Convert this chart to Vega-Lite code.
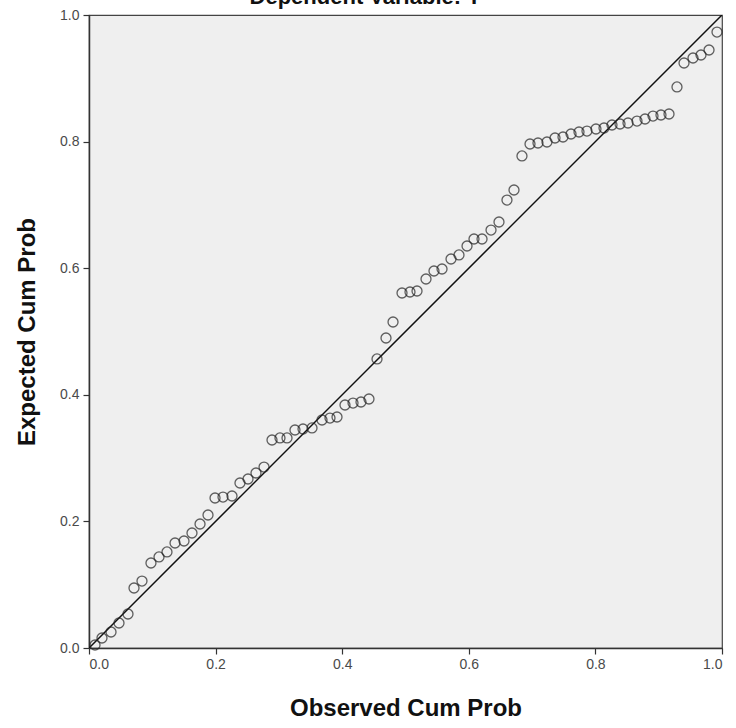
{
  "$schema": "https://vega.github.io/schema/vega-lite/v6.json",
  "width": 633,
  "height": 633,
  "autosize": {"type": "none"},
  "padding": {"left": 89, "top": 15, "right": 14, "bottom": 80},
  "background": "#ffffff",
  "title": {
    "text": "Dependent Variable: Y",
    "anchor": "middle",
    "frame": "group",
    "dx": -40,
    "dy": 24,
    "offset": 6,
    "baseline": "alphabetic",
    "font": "Liberation Sans",
    "fontSize": 22,
    "fontWeight": "bold",
    "color": "#111111"
  },
  "config": {
    "view": {"fill": "#efefef", "stroke": "#444444", "strokeWidth": 1.2},
    "axis": {
      "grid": false,
      "domainColor": "#333333",
      "domainWidth": 1.5,
      "tickColor": "#333333",
      "tickSize": 6,
      "tickWidth": 1.2,
      "labelFont": "Liberation Sans",
      "labelFontSize": 14,
      "labelColor": "#4a4a4a",
      "titleFont": "Liberation Sans",
      "titleFontSize": 24,
      "titleFontWeight": "bold",
      "titleColor": "#111111"
    }
  },
  "layer": [
    {
      "data": {"values": [{"x": 0, "y": 0}, {"x": 1, "y": 1}]},
      "mark": {"type": "line", "color": "#111111", "strokeWidth": 1.5, "clip": true},
      "encoding": {
        "x": {"field": "x", "type": "quantitative"},
        "y": {"field": "y", "type": "quantitative"}
      }
    },
    {
      "data": {
        "values": [
          {"obs": 0.0095, "exp": 0.0047}, {"obs": 0.0205, "exp": 0.0158}, {"obs": 0.0348, "exp": 0.0253},
          {"obs": 0.0474, "exp": 0.0395}, {"obs": 0.0616, "exp": 0.0537}, {"obs": 0.0711, "exp": 0.0948},
          {"obs": 0.0837, "exp": 0.1058}, {"obs": 0.0979, "exp": 0.1343}, {"obs": 0.1106, "exp": 0.1438},
          {"obs": 0.1232, "exp": 0.1517}, {"obs": 0.1359, "exp": 0.1659}, {"obs": 0.1501, "exp": 0.1690},
          {"obs": 0.1627, "exp": 0.1817}, {"obs": 0.1754, "exp": 0.1959}, {"obs": 0.1880, "exp": 0.2101},
          {"obs": 0.1991, "exp": 0.2370}, {"obs": 0.2117, "exp": 0.2385}, {"obs": 0.2259, "exp": 0.2401},
          {"obs": 0.2385, "exp": 0.2607}, {"obs": 0.2512, "exp": 0.2670}, {"obs": 0.2638, "exp": 0.2765},
          {"obs": 0.2765, "exp": 0.2859}, {"obs": 0.2891, "exp": 0.3286}, {"obs": 0.3017, "exp": 0.3318},
          {"obs": 0.3128, "exp": 0.3318}, {"obs": 0.3254, "exp": 0.3444}, {"obs": 0.3381, "exp": 0.3460},
          {"obs": 0.3523, "exp": 0.3476}, {"obs": 0.3681, "exp": 0.3602}, {"obs": 0.3807, "exp": 0.3633},
          {"obs": 0.3918, "exp": 0.3649}, {"obs": 0.4044, "exp": 0.3839}, {"obs": 0.4171, "exp": 0.3870},
          {"obs": 0.4297, "exp": 0.3886}, {"obs": 0.4423, "exp": 0.3934}, {"obs": 0.4550, "exp": 0.4566},
          {"obs": 0.4692, "exp": 0.4897}, {"obs": 0.4803, "exp": 0.5150}, {"obs": 0.4945, "exp": 0.5608},
          {"obs": 0.5071, "exp": 0.5624}, {"obs": 0.5182, "exp": 0.5640}, {"obs": 0.5324, "exp": 0.5829},
          {"obs": 0.5450, "exp": 0.5956}, {"obs": 0.5577, "exp": 0.5987}, {"obs": 0.5719, "exp": 0.6145},
          {"obs": 0.5845, "exp": 0.6209}, {"obs": 0.5972, "exp": 0.6351}, {"obs": 0.6082, "exp": 0.6461},
          {"obs": 0.6209, "exp": 0.6461}, {"obs": 0.6351, "exp": 0.6603}, {"obs": 0.6477, "exp": 0.6730},
          {"obs": 0.6603, "exp": 0.7077}, {"obs": 0.6714, "exp": 0.7235}, {"obs": 0.6840, "exp": 0.7773},
          {"obs": 0.6967, "exp": 0.7962}, {"obs": 0.7093, "exp": 0.7978}, {"obs": 0.7235, "exp": 0.7994},
          {"obs": 0.7362, "exp": 0.8057}, {"obs": 0.7488, "exp": 0.8073}, {"obs": 0.7615, "exp": 0.8120},
          {"obs": 0.7741, "exp": 0.8152}, {"obs": 0.7867, "exp": 0.8167}, {"obs": 0.8009, "exp": 0.8199},
          {"obs": 0.8136, "exp": 0.8215}, {"obs": 0.8262, "exp": 0.8262}, {"obs": 0.8389, "exp": 0.8278},
          {"obs": 0.8515, "exp": 0.8294}, {"obs": 0.8657, "exp": 0.8325}, {"obs": 0.8784, "exp": 0.8357},
          {"obs": 0.8910, "exp": 0.8404}, {"obs": 0.9036, "exp": 0.8420}, {"obs": 0.9163, "exp": 0.8436},
          {"obs": 0.9289, "exp": 0.8863}, {"obs": 0.9400, "exp": 0.9242}, {"obs": 0.9542, "exp": 0.9321},
          {"obs": 0.9668, "exp": 0.9368}, {"obs": 0.9795, "exp": 0.9447}, {"obs": 0.9921, "exp": 0.9731}
        ]
      },
      "mark": {"type": "point", "shape": "circle", "filled": false, "stroke": "#222222", "strokeWidth": 1.3, "size": 100, "clip": false},
      "encoding": {
        "x": {
          "field": "obs", "type": "quantitative",
          "scale": {"domain": [0, 1], "nice": false, "zero": false},
          "axis": {"title": "Observed Cum Prob", "values": [0, 0.2, 0.4, 0.6, 0.8, 1.0], "format": ".1f", "labelPadding": 3, "titlePadding": 25}
        },
        "y": {
          "field": "exp", "type": "quantitative",
          "scale": {"domain": [0, 1], "nice": false, "zero": false},
          "axis": {"title": "Expected Cum Prob", "values": [0, 0.2, 0.4, 0.6, 0.8, 1.0], "format": ".1f", "labelPadding": 4, "titlePadding": 20}
        }
      }
    }
  ]
}
